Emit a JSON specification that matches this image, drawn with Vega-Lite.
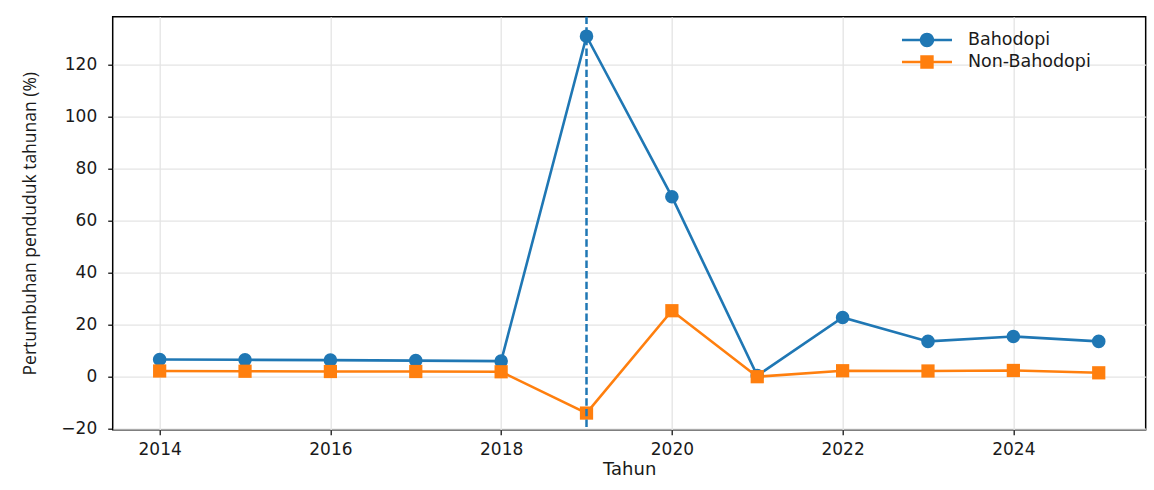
{
  "$schema": "https://vega.github.io/schema/vega-lite/v6.json",
  "width": 1033,
  "height": 413,
  "autosize": "none",
  "padding": {"left": 112.7, "top": 16.7, "right": 8, "bottom": 60},
  "background": "white",
  "config": {
    "view": {"stroke": "#000", "strokeWidth": 1.5},
    "axis": {
      "labelFont": "DejaVu Sans",
      "labelFontSize": 17,
      "labelColor": "#1a1a1a",
      "titleFont": "DejaVu Sans",
      "titleFontSize": 18,
      "titleFontWeight": "normal",
      "titleColor": "#1a1a1a",
      "tickColor": "#000",
      "tickSize": 5,
      "tickWidth": 1.2,
      "domain": false,
      "gridColor": "#e4e4e4",
      "gridWidth": 1.3
    }
  },
  "data": {
    "values": [
      {"year": 2014, "series": "Bahodopi", "value": 6.5},
      {"year": 2015, "series": "Bahodopi", "value": 6.4},
      {"year": 2016, "series": "Bahodopi", "value": 6.3},
      {"year": 2017, "series": "Bahodopi", "value": 6.1},
      {"year": 2018, "series": "Bahodopi", "value": 5.9},
      {"year": 2019, "series": "Bahodopi", "value": 131.0},
      {"year": 2020, "series": "Bahodopi", "value": 69.2},
      {"year": 2021, "series": "Bahodopi", "value": 0.3},
      {"year": 2022, "series": "Bahodopi", "value": 22.7},
      {"year": 2023, "series": "Bahodopi", "value": 13.5},
      {"year": 2024, "series": "Bahodopi", "value": 15.4},
      {"year": 2025, "series": "Bahodopi", "value": 13.5},
      {"year": 2014, "series": "Non-Bahodopi", "value": 2.1},
      {"year": 2015, "series": "Non-Bahodopi", "value": 2.0},
      {"year": 2016, "series": "Non-Bahodopi", "value": 1.9},
      {"year": 2017, "series": "Non-Bahodopi", "value": 1.9},
      {"year": 2018, "series": "Non-Bahodopi", "value": 1.8},
      {"year": 2019, "series": "Non-Bahodopi", "value": -14.1},
      {"year": 2020, "series": "Non-Bahodopi", "value": 25.3},
      {"year": 2021, "series": "Non-Bahodopi", "value": -0.1},
      {"year": 2022, "series": "Non-Bahodopi", "value": 2.2},
      {"year": 2023, "series": "Non-Bahodopi", "value": 2.1},
      {"year": 2024, "series": "Non-Bahodopi", "value": 2.3},
      {"year": 2025, "series": "Non-Bahodopi", "value": 1.4}
    ]
  },
  "encoding": {
    "x": {
      "field": "year",
      "type": "quantitative",
      "title": "Tahun",
      "scale": {"domain": [2013.45, 2025.55], "nice": false, "zero": false},
      "axis": {"values": [2014, 2016, 2018, 2020, 2022, 2024], "format": "d", "labelPadding": 7, "titlePadding": 3, "labelFlush": false}
    },
    "y": {
      "field": "value",
      "type": "quantitative",
      "title": "Pertumbuhan penduduk tahunan (%)",
      "scale": {"domain": [-20.5, 138.5], "nice": false, "zero": false},
      "axis": {"values": [-20, 0, 20, 40, 60, 80, 100, 120], "labelPadding": 11, "titlePadding": 21, "titleFont": "Open Sans", "titleFontSize": 17.5, "labelFlush": false}
    },
    "color": {
      "field": "series",
      "type": "nominal",
      "scale": {"domain": ["Bahodopi", "Non-Bahodopi"], "range": ["#1f77b4", "#ff7f0e"]},
      "legend": {
        "title": null,
        "orient": "none",
        "legendX": 804.3,
        "legendY": 13.3,
        "padding": 0,
        "labelFont": "DejaVu Sans",
        "labelFontSize": 17.5,
        "labelColor": "#1a1a1a",
        "symbolSize": 400,
        "labelOffset": 31,
        "rowPadding": 3,
        "symbolStrokeWidth": 0,
        "encode": {
          "symbols": {
            "update": {
              "shape": {"signal": "datum.value === 'Bahodopi' ? 'M-2.5,-0.12H2.5V0.12H-2.5Z M0.72,0A0.72,0.72 0 1,1 -0.72,0A0.72,0.72 0 1,1 0.72,0Z' : 'M-2.5,-0.12H2.5V0.12H-2.5Z M-0.67,-0.67H0.67V0.67H-0.67Z'"},
              "fill": {"signal": "scale('color', datum.value)"},
              "stroke": {"value": "transparent"},
              "opacity": {"value": 1}
            }
          }
        }
      }
    }
  },
  "layer": [
    {
      "mark": {"type": "line", "strokeWidth": 2.6}
    },
    {
      "transform": [{"filter": "datum.series === 'Bahodopi'"}],
      "mark": {"type": "point", "shape": "circle", "filled": true, "opacity": 1, "size": 185}
    },
    {
      "transform": [{"filter": "datum.series === 'Non-Bahodopi'"}],
      "mark": {"type": "point", "shape": "square", "filled": true, "opacity": 1, "size": 175}
    },
    {
      "data": {"values": [{"year": 2019}]},
      "mark": {"type": "rule", "color": "#1f77b4", "strokeWidth": 2.5, "strokeDash": [7.4, 3.2]},
      "encoding": {
        "x": {"field": "year", "type": "quantitative"},
        "y": null,
        "color": null
      }
    }
  ]
}
